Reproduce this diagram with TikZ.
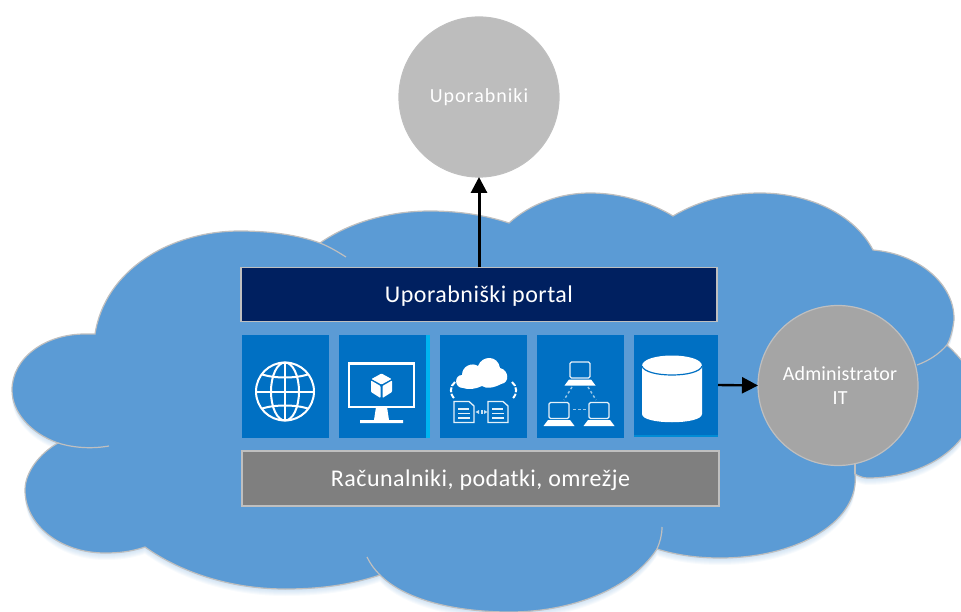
\documentclass[tikz,border=0pt]{standalone}
\usepackage{fontspec}
\setmainfont{Carlito}
\newfontfamily\bandfont[LetterSpace=2]{Carlito}
\newfontfamily\usersfont[LetterSpace=5]{Carlito}
\newfontfamily\adminfont[LetterSpace=1]{Carlito}
\usetikzlibrary{arrows.meta}
\definecolor{cloudblue}{HTML}{5B9BD5}
\definecolor{edgegrey}{HTML}{BFBFBF}
\definecolor{navy}{HTML}{002060}
\definecolor{midgrey}{HTML}{7F7F7F}
\definecolor{tileblue}{HTML}{0070C3}
\definecolor{stripcyan}{HTML}{00B4F0}
\definecolor{circA}{HTML}{BDBDBD}
\definecolor{circB}{HTML}{A5A5A5}
\newcommand{\cloudpath}{
  (95,334) .. controls (105,270) and (170,231) .. (240,231)
  .. controls (270,231) and (298,235) .. (320,243)
  .. controls (350,222) and (390,211) .. (430,211)
  .. controls (458,211) and (485,215) .. (509,223)
  .. controls (530,204) and (560,193) .. (590,193)
  .. controls (620,193) and (650,202) .. (673,216)
  .. controls (700,200) and (730,193) .. (760,193)
  .. controls (810,193) and (855,215) .. (873,250)
  .. controls (920,254) and (955,285) .. (954,320)
  .. controls (953,328) and (951,338) .. (947,345)
  .. controls (965,362) and (975,375) .. (975,400)
  .. controls (975,445) and (925,478) .. (868,478)
  .. controls (864,478) and (860,477) .. (855,474)
  .. controls (860,520) and (800,558) .. (720,558)
  .. controls (697,558) and (676,555) .. (657,549)
  .. controls (630,590) and (570,612) .. (510,612)
  .. controls (455,612) and (405,600) .. (380,575)
  .. controls (350,585) and (320,589) .. (285,589)
  .. controls (230,589) and (180,572) .. (145,547)
  .. controls (130,552) and (118,553) .. (105,553)
  .. controls (60,553) and (25,525) .. (25,490)
  .. controls (25,472) and (40,453) .. (58,443)
  .. controls (30,433) and (12,412) .. (12,390)
  .. controls (12,358) and (45,334) .. (85,334)
  -- cycle}
\tikzset{
  x=1pt,y=-1pt,
  band/.style={draw=edgegrey,line width=1.4pt,text=white,inner sep=0pt,outer sep=0pt,font=\bandfont\fontsize{24}{26}\selectfont},
  tile/.style={fill=tileblue,inner sep=0pt,outer sep=0pt,minimum width=87pt,minimum height=103pt},
  person/.style={circle,draw=edgegrey,line width=1.2pt,text=white,inner sep=0pt,outer sep=0pt,minimum size=160pt,align=center},
  link/.style={-{Triangle[length=16pt,width=16pt]},black},
  tail/.style={draw=edgegrey,line width=1.2pt},
  glyph/.style={draw=white,line width=2pt},
  thin glyph/.style={draw=white!90!tileblue,line width=1.3pt},
  dots/.style={draw=white!60!tileblue,line width=1.4pt,dash pattern=on 2.5pt off 2.5pt},
}
\newcommand{\laptop}[2]{%
  \begin{scope}[shift={(#1,#2)}]
    \draw[thin glyph,rounded corners=1.5pt] (-10,-12) rectangle (10,4);
    \fill[white] (-11,5.5) -- (11,5.5) -- (15.5,11.5) -- (-15.5,11.5) -- cycle;
  \end{scope}}
\newcommand{\docicon}[2]{%
  \begin{scope}[shift={(#1,#2)}]
    \draw[thin glyph] (-10,-10.5) -- (5,-10.5) -- (10,-6) -- (10,10.5) -- (-10,10.5) -- cycle;
    \draw[thin glyph] (-6,-3) -- (5,-3) (-6,1.5) -- (6,1.5) (-6,6) -- (6,6);
  \end{scope}}
\begin{document}
\begin{tikzpicture}
\useasboundingbox (0,0) rectangle (961,612);
\clip (0,0) rectangle (961,612);
% cloud: soft shadow, body, inner lobe tails
\foreach \k in {7,6,5,4,3,2,1}{
  \fill[cloudblue,opacity=0.045,shift={(0,\k)}] \cloudpath;
}
\filldraw[fill=cloudblue,draw=edgegrey,line width=1.2pt] \cloudpath;
\draw[tail] (320,243) .. controls (330,247) and (338,252) .. (346,257);
\draw[tail] (58,443) .. controls (74,448) and (92,449) .. (109,446);
\draw[tail] (380,575) .. controls (375,570) and (371,565) .. (367,557);
\draw[tail] (657,549) .. controls (660,542) and (662,535) .. (662,527);
\draw[tail] (947,345) .. controls (938,355) and (928,361) .. (917,365);
\draw[tail] (855,474) -- (855,464);

% people
\node[person,fill=circA,font=\usersfont\fontsize{20}{24}\selectfont] (users) at (479,97) {Uporabniki};
\node[person,fill=circB,font=\adminfont\fontsize{20}{24}\selectfont] (admin) at (838,385.5) {\hspace{4pt}Administrator\\\hspace{4pt}IT};

% bands
\node[band,fill=navy,minimum width=476pt,minimum height=54pt] (portal) at (479,294.5) {\raisebox{-8.5pt}[0pt][0pt]{Uporabniški portal}};
\node[band,fill=midgrey,minimum width=477pt,minimum height=55pt] (infra) at (480.5,478.5) {\raisebox{-8pt}[0pt][0pt]{Računalniki, podatki, omrežje}};

% tiles
\node[tile] (tileA) at (285.5,386.5) {};
\fill[stripcyan] (426,335) rectangle (430,438);
\node[tile] (tileB) at (382.5,386.5) {};
\node[tile] (tileC) at (483.5,386.5) {};
\node[tile] (tileD) at (580.5,386.5) {};
\fill[stripcyan!40!tileblue] (634,435) rectangle (718,436.5);
\node[tile,minimum width=84pt,minimum height=100pt] (tileE) at (676,385) {};

% globe
\begin{scope}[shift={(285,391.5)}]
  \draw[glyph] (0,0) circle (29);
  \draw[glyph] (0,0) ellipse (14 and 29);
  \draw[glyph] (0,-29) -- (0,29);
  \draw[glyph] (-29,0) -- (29,0);
  \draw[glyph] (-23,-17) .. controls (-10,-13) and (10,-13) .. (23,-17);
  \draw[glyph] (-23,17) .. controls (-10,13) and (10,13) .. (23,17);
\end{scope}

% monitor with cube
\draw[glyph,line width=2.4pt] (349,363.5) rectangle (414,407);
\fill[white] (376,407) -- (387,407) -- (389,420) -- (403,420) -- (403,423) -- (360,423) -- (360,420) -- (374,420) -- cycle;
\fill[white,rounded corners=0.8pt] (381.5,373.5) -- (391.5,379) -- (381.5,384.5) -- (371.5,379) -- cycle;
\fill[white,rounded corners=0.8pt] (371,380.5) -- (380.5,386) -- (380.5,398) -- (371,392) -- cycle;
\fill[white,rounded corners=0.8pt] (392,380.5) -- (382.5,386) -- (382.5,398) -- (392,392) -- cycle;

% cloud with documents
\fill[white] (463,388) .. controls (454,388) and (454,375) .. (462,375)
  .. controls (462,366) and (472,362) .. (478,366)
  .. controls (482,355) and (498,355) .. (500,368)
  .. controls (509,370) and (510,383) .. (501,384)
  .. controls (494,388) and (486,389) .. (482,386)
  .. controls (476,389) and (468,390) .. (463,388) -- cycle;
\draw[glyph,dash pattern=on 5pt off 1.5pt] (455,382) .. controls (450,386) and (449,394) .. (455,399);
\draw[glyph,dash pattern=on 5pt off 1.5pt] (512,382) .. controls (517,386) and (518,394) .. (512,399);
\docicon{464}{412}
\docicon{498}{412}
\fill[white!80!tileblue] (479,410) -- (475.5,412) -- (479,414) -- cycle;
\fill[white!80!tileblue] (484,410) -- (487.5,412) -- (484,414) -- cycle;
\fill[white!80!tileblue] (480.5,410) rectangle (482.5,414);

% network of laptops
\laptop{580}{374}
\laptop{559}{414.5}
\laptop{599}{414.5}
\draw[dots] (572,387) -- (564,400);
\draw[dots] (588,387) -- (596,400);
\draw[dots] (573,409.5) -- (586,409.5);

% database cylinder
\fill[white] (642,366) .. controls (642,352) and (702,352) .. (702,366)
  -- (702,414) .. controls (702,425) and (642,425) .. (642,414) -- cycle;
\draw[tileblue,line width=1.2pt] (642,366) .. controls (645,378) and (699,378) .. (702,366);

% connectors
\draw[link,line width=3pt] (portal.north) -- (users.south);
\draw[link,line width=2.4pt] (tileE.east) -- (admin.west);
\end{tikzpicture}
\end{document}
